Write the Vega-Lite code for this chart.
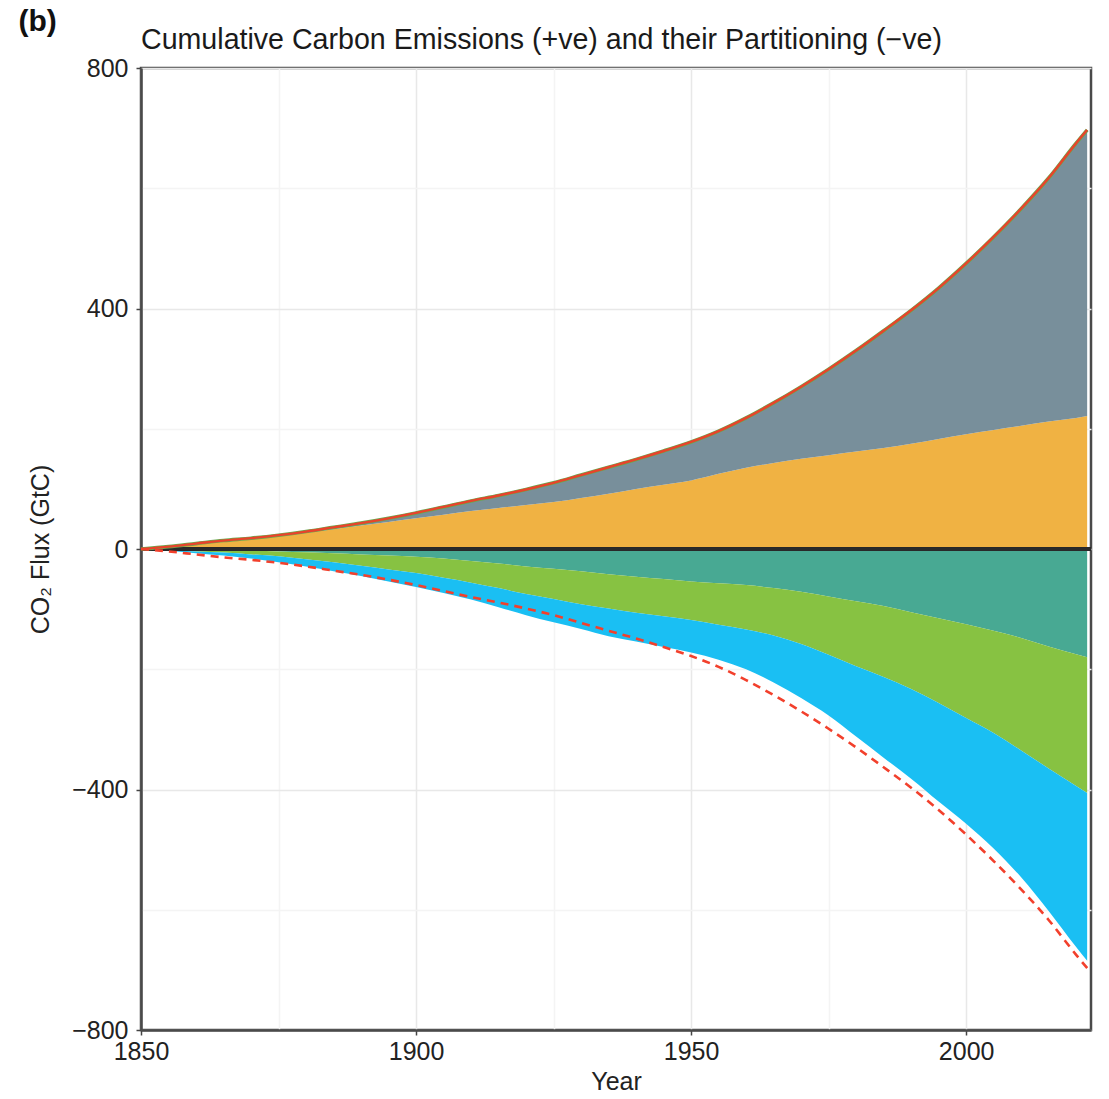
{
  "$schema": "https://vega.github.io/schema/vega-lite/v6.json",
  "autosize": "none",
  "width": 950,
  "height": 962,
  "padding": {"left": 141, "top": 68, "right": 18, "bottom": 69},
  "background": "white",
  "title": {
    "text": "Cumulative Carbon Emissions (+ve) and their Partitioning (−ve)",
    "anchor": "start",
    "frame": "group",
    "baseline": "alphabetic",
    "offset": 20,
    "dy": 92,
    "font": "Liberation Sans",
    "fontSize": 28.6,
    "fontWeight": "normal",
    "color": "#1a1a1a"
  },
  "config": {
    "view": {"stroke": "#4a4a4a", "strokeWidth": 2.5},
    "axis": {"labelFont": "Liberation Sans", "titleFont": "Liberation Sans", "labelColor": "#222", "titleColor": "#222", "titleFontWeight": "normal"}
  },
  "resolve": {"axis": {"x": "independent"}},
  "data": {
    "values": [
      {"year": 1850, "total": 0, "luc": 0, "ocean_b": 0, "land_b": 0, "atm_b": 0, "mirror": 0},
      {"year": 1855, "total": 4, "luc": 4, "ocean_b": -1, "land_b": -2, "atm_b": -3, "mirror": -4},
      {"year": 1860, "total": 9, "luc": 9, "ocean_b": -1.5, "land_b": -4, "atm_b": -7, "mirror": -9},
      {"year": 1865, "total": 14, "luc": 13, "ocean_b": -2.5, "land_b": -6, "atm_b": -11, "mirror": -14},
      {"year": 1870, "total": 18, "luc": 17, "ocean_b": -3, "land_b": -9, "atm_b": -16, "mirror": -18},
      {"year": 1875, "total": 23, "luc": 21, "ocean_b": -4, "land_b": -12, "atm_b": -22, "mirror": -23},
      {"year": 1880, "total": 29, "luc": 27, "ocean_b": -5.5, "land_b": -17, "atm_b": -29, "mirror": -29},
      {"year": 1885, "total": 36, "luc": 33, "ocean_b": -7, "land_b": -22, "atm_b": -37, "mirror": -36},
      {"year": 1890, "total": 43, "luc": 39, "ocean_b": -9, "land_b": -28, "atm_b": -45, "mirror": -43},
      {"year": 1895, "total": 51, "luc": 45, "ocean_b": -11, "land_b": -34, "atm_b": -54, "mirror": -51},
      {"year": 1900, "total": 60, "luc": 51, "ocean_b": -13, "land_b": -40, "atm_b": -63, "mirror": -60},
      {"year": 1905, "total": 70, "luc": 57, "ocean_b": -16, "land_b": -48, "atm_b": -73, "mirror": -70},
      {"year": 1910, "total": 80, "luc": 63, "ocean_b": -20, "land_b": -56, "atm_b": -84, "mirror": -80},
      {"year": 1915, "total": 89, "luc": 68, "ocean_b": -24, "land_b": -65, "atm_b": -97, "mirror": -89},
      {"year": 1920, "total": 99, "luc": 73, "ocean_b": -29, "land_b": -75, "atm_b": -110, "mirror": -99},
      {"year": 1925, "total": 110, "luc": 78, "ocean_b": -33, "land_b": -83, "atm_b": -122, "mirror": -110},
      {"year": 1930, "total": 123, "luc": 85, "ocean_b": -37, "land_b": -92, "atm_b": -133, "mirror": -123},
      {"year": 1935, "total": 136, "luc": 92, "ocean_b": -42, "land_b": -99, "atm_b": -145, "mirror": -136},
      {"year": 1940, "total": 149, "luc": 100, "ocean_b": -46, "land_b": -106, "atm_b": -154, "mirror": -149},
      {"year": 1945, "total": 163, "luc": 107, "ocean_b": -50, "land_b": -112, "atm_b": -163, "mirror": -163},
      {"year": 1950, "total": 178, "luc": 114, "ocean_b": -54, "land_b": -118, "atm_b": -172, "mirror": -178},
      {"year": 1955, "total": 196, "luc": 125, "ocean_b": -57, "land_b": -126, "atm_b": -184, "mirror": -196},
      {"year": 1960, "total": 218, "luc": 135, "ocean_b": -60, "land_b": -134, "atm_b": -200, "mirror": -218},
      {"year": 1965, "total": 243, "luc": 143, "ocean_b": -65, "land_b": -144, "atm_b": -222, "mirror": -243},
      {"year": 1970, "total": 270, "luc": 150, "ocean_b": -71, "land_b": -158, "atm_b": -248, "mirror": -270},
      {"year": 1975, "total": 299, "luc": 156, "ocean_b": -79, "land_b": -176, "atm_b": -277, "mirror": -299},
      {"year": 1980, "total": 330, "luc": 162, "ocean_b": -87, "land_b": -195, "atm_b": -312, "mirror": -330},
      {"year": 1985, "total": 363, "luc": 168, "ocean_b": -95, "land_b": -213, "atm_b": -347, "mirror": -363},
      {"year": 1990, "total": 397, "luc": 175, "ocean_b": -105, "land_b": -233, "atm_b": -382, "mirror": -397},
      {"year": 1995, "total": 434, "luc": 183, "ocean_b": -115, "land_b": -256, "atm_b": -420, "mirror": -434},
      {"year": 2000, "total": 475, "luc": 191, "ocean_b": -125, "land_b": -281, "atm_b": -457, "mirror": -475},
      {"year": 2005, "total": 519, "luc": 198, "ocean_b": -136, "land_b": -306, "atm_b": -498, "mirror": -519},
      {"year": 2010, "total": 566, "luc": 205, "ocean_b": -148, "land_b": -335, "atm_b": -546, "mirror": -566},
      {"year": 2015, "total": 617, "luc": 212, "ocean_b": -162, "land_b": -365, "atm_b": -602, "mirror": -617},
      {"year": 2020, "total": 675, "luc": 218, "ocean_b": -175, "land_b": -394, "atm_b": -662, "mirror": -675},
      {"year": 2022, "total": 697, "luc": 221, "ocean_b": -180, "land_b": -406, "atm_b": -685, "mirror": -697}
    ]
  },
  "layer": [
    {
      "mark": {"type": "area", "color": "#f0b243", "interpolate": "monotone"},
      "encoding": {
        "x": {
          "field": "year", "type": "quantitative",
          "scale": {"domain": [1850, 2022.7], "nice": false, "zero": false},
          "axis": {
            "title": "Year", "titleFontSize": 25, "titlePadding": 5,
            "values": [1850, 1875, 1900, 1925, 1950, 1975, 2000],
            "format": "d",
            "labelExpr": "datum.value % 50 === 0 ? datum.label : ''",
            "labelFontSize": 25, "labelPadding": 4, "labelFlush": false,
            "tickColor": "#444", "tickSize": 5, "tickWidth": 1.5,
            "tickOpacity": {"condition": {"test": "datum.value % 50 !== 0", "value": 0}, "value": 1},
            "domainColor": "#4a4a4a", "domainWidth": 2.5,
            "grid": true,
            "gridColor": {"condition": {"test": "datum.value % 50 !== 0", "value": "#f4f4f4"}, "value": "#e8e8e8"},
            "gridWidth": 1.5
          }
        },
        "y": {
          "field": "luc", "type": "quantitative",
          "scale": {"domain": [-800, 800], "nice": false, "zero": false},
          "axis": {
            "title": "CO₂ Flux (GtC)", "titleFontSize": 25, "titlePadding": 18,
            "values": [-800, -600, -400, -200, 0, 200, 400, 600, 800],
            "labelExpr": "datum.value % 400 === 0 ? datum.label : ''",
            "labelFontSize": 25, "labelPadding": 8, "labelFlush": false,
            "tickColor": "#444", "tickSize": 5, "tickWidth": 1.5,
            "tickOpacity": {"condition": {"test": "datum.value % 400 !== 0", "value": 0}, "value": 1},
            "domainColor": "#4a4a4a", "domainWidth": 2.5,
            "grid": true,
            "gridColor": {"condition": {"test": "datum.value % 400 !== 0", "value": "#f4f4f4"}, "value": "#e8e8e8"},
            "gridWidth": 1.5
          }
        },
        "y2": {"datum": 0}
      }
    },
    {
      "mark": {"type": "area", "color": "#788f9b", "interpolate": "monotone"},
      "encoding": {
        "x": {"field": "year", "type": "quantitative", "axis": null},
        "y": {"field": "total", "type": "quantitative"},
        "y2": {"field": "luc"}
      }
    },
    {
      "mark": {"type": "area", "color": "#48a993", "interpolate": "monotone"},
      "encoding": {
        "x": {"field": "year", "type": "quantitative", "axis": null},
        "y": {"field": "ocean_b", "type": "quantitative"},
        "y2": {"datum": 0}
      }
    },
    {
      "mark": {"type": "area", "color": "#87c242", "interpolate": "monotone"},
      "encoding": {
        "x": {"field": "year", "type": "quantitative", "axis": null},
        "y": {"field": "land_b", "type": "quantitative"},
        "y2": {"field": "ocean_b"}
      }
    },
    {
      "mark": {"type": "area", "color": "#1abff3", "interpolate": "monotone"},
      "encoding": {
        "x": {"field": "year", "type": "quantitative", "axis": null},
        "y": {"field": "atm_b", "type": "quantitative"},
        "y2": {"field": "land_b"}
      }
    },
    {
      "mark": {"type": "rule", "color": "#2a2a2a", "strokeWidth": 2.5},
      "encoding": {
        "y": {"datum": 0, "type": "quantitative"}
      }
    },
    {
      "mark": {"type": "line", "color": "#6aa84f", "strokeWidth": 3.6, "interpolate": "monotone"},
      "encoding": {
        "x": {"field": "year", "type": "quantitative", "axis": null},
        "y": {"field": "total", "type": "quantitative"}
      }
    },
    {
      "mark": {"type": "line", "color": "#e8432b", "strokeWidth": 2.4, "interpolate": "monotone"},
      "encoding": {
        "x": {"field": "year", "type": "quantitative", "axis": null},
        "y": {"field": "total", "type": "quantitative"}
      }
    },
    {
      "mark": {"type": "line", "color": "#f2402c", "strokeWidth": 2.6, "strokeDash": [8, 6], "interpolate": "monotone"},
      "encoding": {
        "x": {"field": "year", "type": "quantitative",
          "axis": {"orient": "top", "domain": false, "ticks": false, "labels": false, "grid": false,
            "title": "(b)", "titleFontSize": 30, "titleFontWeight": "bold", "titleColor": "#111",
            "titleAngle": 0, "titleAlign": "left", "titleBaseline": "alphabetic",
            "titleX": -123, "titleY": -38}},
        "y": {"field": "mirror", "type": "quantitative"}
      }
    }
  ]
}
